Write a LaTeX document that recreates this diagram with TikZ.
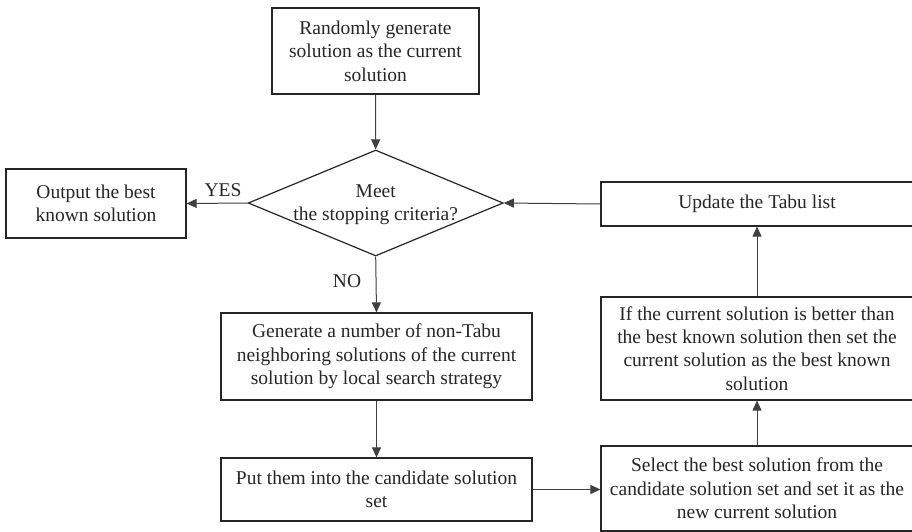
\documentclass[tikz,border=0pt]{standalone}
\usepackage{fontspec}
\setmainfont{Liberation Serif}
\usetikzlibrary{shapes.geometric,arrows.meta}

\tikzset{
  x=1pt, y=-1pt,
  every node/.style={font=\fontsize{19.5}{23.4}\selectfont, text=black!85},
  stepbox/.style={draw=black!85, line width=1.2pt, rectangle, align=center, inner sep=0pt},
  decision/.style={draw=black!85, line width=1.2pt, diamond, inner sep=0pt},
  flow/.style={draw=black!75, line width=1pt, -{Triangle[length=10pt,width=9pt]}},
  tag/.style={inner sep=0pt}
}

\begin{document}
\begin{tikzpicture}
  \useasboundingbox (0,0) rectangle (912,532);
  \fill[white] (0,0) rectangle (912,532);

  % process steps
  \node[stepbox, minimum width=207pt, minimum height=86pt] (init) at (375.5,51)
    {Randomly generate\\solution as the current\\solution};
  \node[decision, minimum width=255pt, minimum height=106pt] (stop) at (375.7,203) {};
  \node[align=center, inner sep=0pt] (stoptext) at (375.7,205) {Meet\\the stopping criteria?};
  \node[stepbox, minimum width=180pt, minimum height=69pt] (output) at (96,203.5)
    {Output the best\\known solution};
  \node[stepbox, minimum width=312pt, minimum height=44pt] (update) at (757,204)
    {Update the Tabu list};
  \node[stepbox, minimum width=311pt, minimum height=87pt] (gen) at (376.5,356.5)
    {Generate a number of non-Tabu\\neighboring solutions of the current\\solution by local search strategy};
  \node[stepbox, minimum width=311pt, minimum height=63pt] (put) at (376.5,489.5)
    {Put them into the candidate solution\\set};
  \node[stepbox, minimum width=312pt, minimum height=103pt] (better) at (757,348.5)
    {If the current solution is better than\\the best known solution then set the\\current solution as the best known\\solution};
  \node[stepbox, minimum width=312pt, minimum height=85pt] (select) at (757,488.5)
    {Select the best solution from the\\candidate solution set and set it as the\\new current solution};

  % connectors
  \draw[flow] (init.south) -- (stop.north);
  \draw[flow] (stop.west) -- (output.east);
  \draw[flow] (update.west) -- (stop.east);
  \draw[flow] (stop.south) -- (gen.north);
  \draw[flow] (gen.south) -- (put.north);
  \draw[flow] (put.east) -- (select.west |- put.east);
  \draw[flow] (select.north) -- (better.south);
  \draw[flow] (better.north) -- (update.south);

  % branch labels
  \node[tag] (yes) at (223,190) {YES};
  \node[tag] (no) at (347,281) {NO};
\end{tikzpicture}
\end{document}
